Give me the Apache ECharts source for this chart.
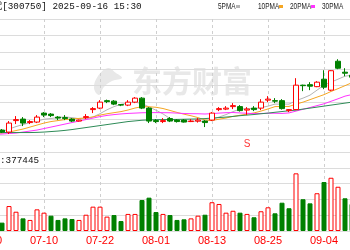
<!DOCTYPE html>
<html><head><meta charset="utf-8">
<script src="https://cdn.jsdelivr.net/npm/echarts@6/dist/echarts.min.js"></script>
<style>html,body{margin:0;padding:0;background:#fff}#c{width:350px;height:250px}</style>
</head><body><div id="c"></div>
<script>
const dates = ['06-30','07-01','07-02','07-03','07-04','07-07','07-08','07-09','07-10','07-11','07-14','07-15','07-16','07-17','07-18','07-21','07-22','07-23','07-24','07-25','07-28','07-29','07-30','07-31','08-01','08-04','08-05','08-06','08-07','08-08','08-11','08-12','08-13','08-14','08-15','08-18','08-19','08-20','08-21','08-22','08-25','08-26','08-27','08-28','08-29','09-01','09-02','09-03','09-04','09-05','09-08','09-09','09-10','09-11','09-12','09-15','09-16'];
// [open, close, low, high]
const candles = ['-','-',
[266.4,264.0,262.8,267.6],[264.0,274.8,261.6,277.2],[277.8,279.0,273.6,283.2],[279.6,274.8,271.2,282.0],
[275.4,276.6,273.6,278.4],[276.0,282.0,274.8,284.4],[286.8,284.4,282.0,288.0],[285.6,283.8,282.0,286.8],
[282.0,280.8,278.4,283.2],[281.4,280.2,278.4,284.4],[279.6,277.2,276.0,280.8],[277.2,278.4,276.6,279.0],
[281.4,282.6,279.6,285.6],[291.0,292.2,286.8,294.0],[292.8,300.0,291.6,302.4],[301.8,300.6,298.8,303.0],
[301.2,297.6,296.4,302.4],[297.0,296.4,295.2,297.6],[296.4,300.0,295.2,302.4],[300.0,304.8,298.8,306.0],
[304.8,292.8,291.6,306.0],[292.8,277.2,274.8,294.0],[277.8,276.6,274.8,279.6],[276.6,277.8,274.8,280.8],
[280.2,277.2,276.0,282.0],[278.4,276.6,275.4,279.6],[278.4,276.0,275.4,279.6],[276.6,277.2,276.0,279.6],
[277.2,278.4,275.4,280.8],[277.2,275.4,270.0,278.4],[278.4,286.8,277.2,288.0],[291.0,292.2,289.2,294.0],
[291.6,292.8,290.4,295.2],[294.6,295.8,291.6,298.8],[294.6,289.8,288.6,296.4],[290.4,291.6,284.4,294.0],
[292.8,291.0,289.2,295.2],[292.8,300.0,290.4,303.6],[302.4,303.6,300.0,307.2],[301.8,301.2,298.8,304.8],
[301.8,292.2,291.0,303.6],[289.8,291.0,288.0,291.6],[291.0,320.4,290.4,328.8],[320.4,319.8,313.2,321.0],
[321.0,319.2,314.4,324.0],[318.6,324.0,318.0,325.2],[327.6,318.0,315.6,338.4],[314.4,337.8,313.2,338.4],
[349.2,340.8,339.6,351.6],[336.0,334.8,331.2,340.8],[332.4,330.0,327.6,336.0],
'-','-','-','-'];
const ma5 = [261.6,262.8,264.6,267.6,270.6,273.0,275.4,277.2,279.4,280.3,281.5,282.2,281.3,280.1,279.8,282.1,286.1,290.8,294.6,297.4,298.9,299.9,298.3,294.2,290.3,285.8,280.3,277.1,276.8,277.0,277.1,276.7,279.0,282.0,285.0,288.6,291.6,292.2,292.2,293.4,295.2,297.6,297.6,297.6,301.8,304.8,308.4,314.4,320.4,324.0,327.6,331.2,332.4];
const ma10 = [261.6,262.2,262.8,264.0,265.8,267.6,270.0,272.4,274.8,276.6,277.8,279.0,279.8,280.4,281.0,282.2,284.4,286.0,287.3,288.6,290.5,292.9,294.5,294.4,293.8,292.3,290.0,287.6,285.5,283.6,281.4,278.5,278.0,279.4,280.9,282.8,284.2,285.6,287.0,289.2,291.8,294.6,294.8,294.8,297.6,300.0,303.0,306.0,309.0,312.8,316.2,319.8,323.4];
const ma20 = [260.4,261.0,261.6,262.2,262.8,264.0,265.2,266.4,268.2,270.0,271.8,273.6,275.4,277.2,279.0,280.8,282.6,284.0,285.0,285.8,286.4,286.8,287.2,287.4,287.4,287.3,287.2,286.8,286.3,286.1,286.0,285.7,286.2,286.8,287.3,287.5,287.0,286.6,286.2,286.3,286.6,286.6,286.4,287.0,289.2,291.4,293.5,295.8,298.0,301.0,304.0,307.2,309.1];
const ma30 = [263.4,263.4,263.4,263.4,263.4,263.4,263.4,263.6,264.0,264.6,265.2,266.0,267.0,268.2,269.4,270.6,271.8,273.0,274.2,275.4,276.6,277.4,278.2,278.6,278.9,279.0,279.1,279.2,279.4,279.6,279.8,280.2,280.8,281.4,282.0,282.8,283.7,284.4,285.1,286.0,286.8,287.8,288.7,289.6,290.4,291.6,292.8,294.0,295.2,296.4,297.6,298.8,300.0];
// volume in 10k lots
const volumes = ['-','-',5.3,15.8,12.2,8.0,7.0,13.7,11.6,9.7,7.0,8.0,7.6,7.0,10.3,15.4,15.4,9.1,10.1,6.3,10.8,10.8,19.6,21.1,12.0,10.8,10.1,7.0,7.4,8.0,9.7,10.3,18.2,17.1,11.6,12.8,11.6,10.8,8.7,12.5,15.0,11.2,17.9,14.4,36.5,20.1,17.5,23.9,31.0,33.7,28.0,20.7,17.1,'-','-','-','-'];
// 1 = close above previous close (red), 0 = below (green)
const volUp = [0,0,0,1,1,0,1,1,1,0,0,0,0,1,1,1,1,1,0,0,1,1,0,0,0,1,0,0,0,1,1,0,1,1,1,1,0,1,0,1,1,0,0,0,1,0,0,1,0,1,1,0,0,0,0,0,0];
const header = '宁德时代[300750] 2025-09-16 15:30';
const volLabel = ':377445';
const maNames = ['5PMA','10PMA','20PMA','30PMA'];
const maColors = ['#b4b4b4','#f5a623','#ff33ff','#2e8b57'];
const watermark = '东方财富';
const eventMark = 'S';
const eventDate = '08-20';
const eventLevel = 249;

const chart = echarts.init(document.getElementById('c'));
const RED = '#ff0000', GREEN = '#008000';
const volData = volumes.map((v,i)=> v==='-' ? '-' : {value:v, itemStyle: volUp[i] ? {color:'#fff', borderColor:RED, borderWidth:1} : {color:GREEN, borderColor:GREEN, borderWidth:1}});
const xBase = {type:'category', data:dates, boundaryGap:false, axisLine:{show:false}, axisTick:{show:false},
  splitLine:{show:true, interval:7, lineStyle:{color:'#cfcfcf', type:[3,3], width:1}}};
const yBase = {axisLabel:{show:false}, axisLine:{show:false}, axisTick:{show:false}, splitLine:{show:true, lineStyle:{color:'#dcdcdc', width:1}}};
const maSeries = [ma5,ma10,ma20,ma30].map((d,k)=>({type:'line', name:maNames[k], data:d, xAxisIndex:0, yAxisIndex:0, showSymbol:false, symbol:'none', smooth:false, z:3,
  lineStyle:{color:maColors[k], width:1}, itemStyle:{color:maColors[k]}}));

const legendEls = [];
const legX = [218,258,290,322];
const mkX = [236,279,311];
maNames.forEach((n,k)=>{
  legendEls.push({type:'text', x:legX[k], y:1.5, scaleX:0.68, style:{text:n, font:'9.5px "Liberation Sans"', fill:'#222'}});
});
mkX.forEach((m,k)=>legendEls.push({type:'rect', shape:{x:m, y:5, width:4, height:3}, style:{fill:maColors[k]}}));

chart.setOption({
  animation:false,
  grid:[{left:-12, width:392, top:19, height:133, outerBoundsMode:'none', containLabel:false},
        {left:-12, width:392, top:152, height:79, outerBoundsMode:'none', containLabel:false}],
  xAxis:[Object.assign({gridIndex:0, axisLabel:{show:false}}, xBase),
         Object.assign({gridIndex:1, axisLabel:{show:true, interval:7, color:RED, fontSize:11, margin:4, fontFamily:'Liberation Sans', hideOverlap:false}}, xBase)],
  yAxis:[Object.assign({gridIndex:0, min:240, max:400, interval:20}, yBase),
         Object.assign({gridIndex:1, min:0, max:50, interval:10}, yBase)],
  series:[
    {type:'candlestick', data:candles, xAxisIndex:0, yAxisIndex:0, barWidth:5, z:4,
     itemStyle:{color:'#fff', color0:GREEN, borderColor:RED, borderColor0:GREEN, borderWidth:1}},
    ...maSeries,
    {type:'bar', data:volData, xAxisIndex:1, yAxisIndex:1, barWidth:5},
    {type:'scatter', xAxisIndex:0, yAxisIndex:0, data:[[eventDate, eventLevel]], symbolSize:2, silent:true, z:5, clip:false,
     itemStyle:{color:'rgba(0,0,0,0)'},
     label:{show:true, position:'inside', formatter:eventMark, color:RED, fontSize:10, fontFamily:'Liberation Sans'}}
  ],
  graphic:[
    {type:'text', x:132, y:66, z:-1, silent:true, style:{text:watermark, font:'bold 30px "Noto Sans CJK SC"', fill:'#e8e8e8'}},
    {type:'polygon', z:-1, silent:true, shape:{points:[[108,68],[98,76],[94,88],[99,95],[104,87],[112,81],[122,78],[116,73]], smooth:0.4}, style:{fill:'#e8e8e8'}},
    {type:'text', x:-35, y:2, style:{text:header, font:'9.3px "Liberation Mono", "Noto Sans CJK SC"', fill:'#111'}},
    {type:'text', x:0, y:156, style:{text:volLabel, font:'9.3px "Liberation Mono"', fill:'#111'}},
    ...legendEls
  ]
});
</script></body></html>
